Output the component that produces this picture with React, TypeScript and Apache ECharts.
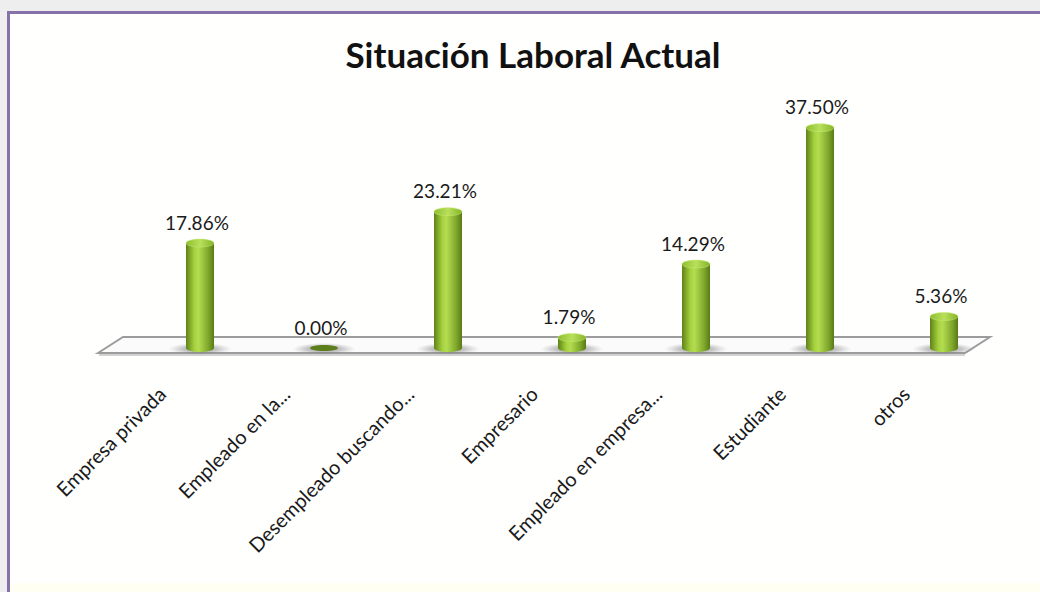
import React, { useEffect, useRef } from "react";
import * as echarts from "echarts";

const titleText = "Situación Laboral Actual";
const categories = [
  "Empresa privada",
  "Empleado en la...",
  "Desempleado buscando...",
  "Empresario",
  "Empleado en empresa...",
  "Estudiante",
  "otros",
];
const values = [17.86, 0.0, 23.21, 1.79, 14.29, 37.5, 5.36];

const FONT = "Lato, 'Open Sans', sans-serif";

export default function App() {
  const ref = useRef<HTMLDivElement>(null);
  useEffect(() => {
    if (!ref.current) return;
    const chart = echarts.init(ref.current, null, { renderer: "svg" });
    const bodyGrad = new echarts.graphic.LinearGradient(0, 0, 1, 0, [
      { offset: 0, color: "#5f8219" },
      { offset: 0.3, color: "#a6d23e" },
      { offset: 0.45, color: "#b4dc50" },
      { offset: 0.8, color: "#7ea62a" },
      { offset: 1, color: "#587a16" },
    ]);
    const topGrad = new echarts.graphic.LinearGradient(0, 0, 1, 0, [
      { offset: 0, color: "#8fbf2e" },
      { offset: 0.5, color: "#b9e05c" },
      { offset: 1, color: "#86b428" },
    ]);
    const shadowGrad = new echarts.graphic.RadialGradient(0.5, 0.5, 0.5, [
      { offset: 0, color: "rgba(90,90,90,0.75)" },
      { offset: 0.6, color: "rgba(120,120,120,0.35)" },
      { offset: 1, color: "rgba(160,160,160,0)" },
    ]);
    const option: any = {
      animation: false,
      backgroundColor: "#eeeeee",
      title: {
        text: titleText,
        left: 528,
        textAlign: "center",
        top: 31,
        textStyle: { fontFamily: FONT, fontSize: 35, fontWeight: "bold", color: "#111" },
      },
      graphic: [
        {
          type: "rect",
          z: -20,
          silent: true,
          shape: { x: 8.5, y: 12.5, width: 1100, height: 700 },
          style: { fill: "#fffffe", stroke: "#8672a9", lineWidth: 3 },
        },
        {
          type: "rect",
          z: -19,
          silent: true,
          shape: { x: 10, y: 583, width: 1100, height: 20 },
          style: { fill: "#fffff2" },
        },
        {
          type: "polygon",
          z: -10,
          silent: true,
          shape: { points: [[98, 353], [123, 337], [990, 337], [965, 353]] },
          style: { fill: "#fbfbfb", stroke: "#9c9c9c", lineWidth: 2 },
        },
        {
          type: "line",
          z: -9,
          silent: true,
          shape: { x1: 99, y1: 355, x2: 965, y2: 355 },
          style: { stroke: "#d2d2d2", lineWidth: 2 },
        },
      ],
      grid: { left: 138, right: 34, top: 113, bottom: 244 },
      xAxis: {
        type: "category",
        data: categories,
        axisLine: { show: false },
        axisTick: { show: false },
        axisLabel: {
          rotate: 45,
          interval: 0,
          margin: 4,
          padding: [0, 54, 0, 0],
          fontFamily: FONT,
          fontSize: 20,
          color: "#1a1a1a",
        },
      },
      yAxis: { type: "value", min: 0, max: 40, show: false, splitLine: { show: false } },
      series: [
        {
          type: "custom",
          data: values.map((v, i) => [i, v]),
          renderItem: (params: any, api: any) => {
            const i = api.value(0);
            const v = api.value(1);
            const base = api.coord([i, 0]);
            const top = api.coord([i, v]);
            const rx = 14;
            const ry = 4;
            const children: any[] = [
              {
                type: "ellipse",
                shape: { cx: base[0], cy: base[1] + 1, rx: 32, ry: 6 },
                style: { fill: shadowGrad },
              },
            ];
            if (v > 0) {
              children.push(
                {
                  type: "ellipse",
                  shape: { cx: base[0], cy: base[1], rx, ry },
                  style: { fill: bodyGrad },
                },
                {
                  type: "rect",
                  shape: { x: base[0] - rx, y: top[1], width: rx * 2, height: base[1] - top[1] },
                  style: { fill: bodyGrad },
                },
                {
                  type: "ellipse",
                  shape: { cx: top[0], cy: top[1], rx, ry },
                  style: { fill: topGrad, stroke: "rgba(200,235,120,0.6)", lineWidth: 0.8 },
                }
              );
            } else {
              children.push({
                type: "ellipse",
                shape: { cx: base[0], cy: base[1], rx, ry: 3 },
                style: { fill: "#5c7e1b" },
              });
            }
            children.push({
              type: "text",
              style: {
                text: v.toFixed(2) + "%",
                x: top[0] - 3,
                y: top[1] - 21,
                textAlign: "center",
                textVerticalAlign: "middle",
                fontFamily: FONT,
                fontSize: 19,
                fill: "#1a1a1a",
              },
            });
            return { type: "group", children };
          },
        },
      ],
    };
    chart.setOption(option);
    return () => chart.dispose();
  }, []);
  return (
    <div
      ref={ref}
      style={{ position: "absolute", left: 0, top: 0, width: 1040, height: 592 }}
    />
  );
}
